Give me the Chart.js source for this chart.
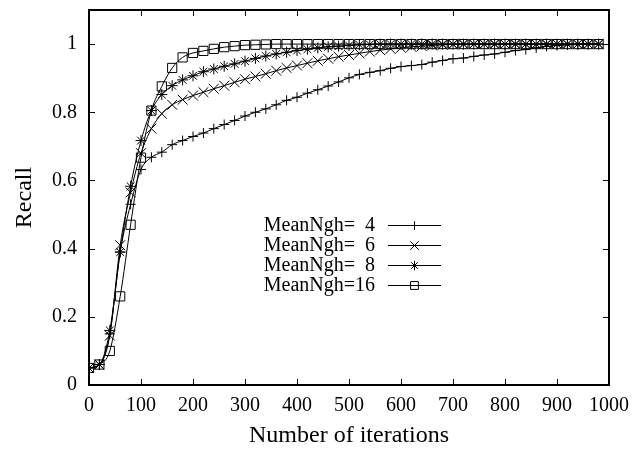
<!DOCTYPE html>
<html>
<head>
<meta charset="utf-8">
<script src="https://cdn.jsdelivr.net/npm/chart.js@4.4.0/dist/chart.umd.min.js"></script>
<style>
  body { margin: 0; background: #fff; }
  #wrap { width: 644px; height: 452px; }
</style>
</head>
<body>
<div id="wrap"><canvas id="recall" width="644" height="452"></canvas></div>
<script>
var iterations = [0, 20, 40, 60, 80, 100, 120, 140, 160, 180, 200, 220, 240, 260, 280, 300, 320, 340, 360, 380,
  400, 420, 440, 460, 480, 500, 520, 540, 560, 580, 600, 620, 640, 660, 680, 700, 720, 740, 760, 780,
  800, 820, 840, 860, 880, 900, 920, 940, 960, 980];

var ngh4 = [0.05, 0.06, 0.15, 0.39, 0.53, 0.632, 0.668, 0.683, 0.705, 0.717, 0.729, 0.739, 0.752, 0.764, 0.776, 0.789, 0.800, 0.810, 0.822, 0.835,
  0.844, 0.856, 0.866, 0.877, 0.889, 0.901, 0.911, 0.917, 0.922, 0.929, 0.934, 0.937, 0.940, 0.947, 0.952, 0.957, 0.959, 0.964, 0.968, 0.971,
  0.976, 0.981, 0.984, 0.989, 0.993, 0.996, 0.998, 0.999, 1.0, 1.0];
var ngh6 = [0.05, 0.06, 0.145, 0.41, 0.565, 0.68, 0.752, 0.796, 0.822, 0.837, 0.849, 0.859, 0.869, 0.878, 0.888, 0.897, 0.905, 0.913, 0.922, 0.93,
  0.937, 0.944, 0.951, 0.957, 0.963, 0.968, 0.973, 0.978, 0.982, 0.986, 0.989, 0.992, 0.994, 0.996, 0.998, 0.999, 1.0, 1.0, 1.0, 1.0,
  1.0, 1.0, 1.0, 1.0, 1.0, 1.0, 1.0, 1.0, 1.0, 1.0];
var ngh8 = [0.05, 0.06, 0.16, 0.39, 0.583, 0.717, 0.805, 0.852, 0.878, 0.895, 0.907, 0.919, 0.927, 0.935, 0.942, 0.95, 0.958, 0.965, 0.971, 0.976,
  0.981, 0.985, 0.989, 0.992, 0.994, 0.996, 0.998, 0.999, 1.0, 1.0, 1.0, 1.0, 1.0, 1.0, 1.0, 1.0, 1.0, 1.0, 1.0, 1.0,
  1.0, 1.0, 1.0, 1.0, 1.0, 1.0, 1.0, 1.0, 1.0, 1.0];
var ngh16 = [0.05, 0.06, 0.10, 0.26, 0.47, 0.667, 0.805, 0.876, 0.930, 0.961, 0.974, 0.98, 0.986, 0.991, 0.994, 0.997, 0.998, 0.999, 1.0, 1.0,
  1.0, 1.0, 1.0, 1.0, 1.0, 1.0, 1.0, 1.0, 1.0, 1.0, 1.0, 1.0, 1.0, 1.0, 1.0, 1.0, 1.0, 1.0, 1.0, 1.0,
  1.0, 1.0, 1.0, 1.0, 1.0, 1.0, 1.0, 1.0, 1.0, 1.0];

var seriesLabels = ['MeanNgh=  4', 'MeanNgh=  6', 'MeanNgh=  8', 'MeanNgh=16'];
var xTicks = [0, 100, 200, 300, 400, 500, 600, 700, 800, 900, 1000];
var yTicks = [0, 0.2, 0.4, 0.6, 0.8, 1];

var serif = "'Liberation Serif', 'DejaVu Serif', serif";

function points(vals) {
  return vals.map(function(v, i) { return {x: iterations[i], y: v}; });
}

function makeSet(label, vals, style, radius) {
  return {
    label: label,
    data: points(vals),
    borderColor: '#000',
    borderWidth: 1,
    backgroundColor: 'rgba(0,0,0,0)',
    pointStyle: style,
    pointRadius: radius,
    pointBorderColor: '#000',
    pointBorderWidth: 1,
    pointBackgroundColor: 'rgba(0,0,0,0)',
    cubicInterpolationMode: 'monotone',
    fill: false
  };
}

// gnuplot style frame: border, inward ticks on all four sides, key inside
var framePlugin = {
  id: 'frame',
  afterDraw: function(chart) {
    var ctx = chart.ctx;
    var a = chart.chartArea;
    var xs = chart.scales.x, ys = chart.scales.y;
    var tl = 6;
    ctx.save();
    ctx.strokeStyle = '#000';
    ctx.lineWidth = 1;
    ctx.beginPath();
    xTicks.forEach(function(t) {
      var px = Math.round(xs.getPixelForValue(t)) + 0.5;
      ctx.moveTo(px, a.bottom); ctx.lineTo(px, a.bottom - tl);
      ctx.moveTo(px, a.top); ctx.lineTo(px, a.top + tl);
    });
    yTicks.forEach(function(t) {
      var py = Math.round(ys.getPixelForValue(t)) + 0.5;
      ctx.moveTo(a.left, py); ctx.lineTo(a.left + tl, py);
      ctx.moveTo(a.right, py); ctx.lineTo(a.right - tl, py);
    });
    ctx.stroke();
    ctx.lineWidth = 2;
    ctx.strokeRect(a.left, a.top, a.right - a.left, a.bottom - a.top);

    // key
    ctx.font = '20px ' + serif;
    ctx.textAlign = 'right';
    ctx.textBaseline = 'middle';
    chart.data.datasets.forEach(function(ds, i) {
      var y = 225 + i * 20;
      ctx.fillStyle = '#000';
      ctx.fillText(ds.label, 375, y + 1);
      ctx.lineWidth = 1;
      ctx.beginPath();
      ctx.moveTo(388, y + 0.5); ctx.lineTo(441, y + 0.5);
      ctx.stroke();
      ctx.fillStyle = 'rgba(0,0,0,0)';
      Chart.helpers.drawPoint(ctx, {pointStyle: ds.pointStyle, radius: ds.pointRadius * 0.85, rotation: 0, borderWidth: 1}, 414.5, y + 0.5);
    });
    ctx.restore();
  }
};

var ctx1 = document.getElementById('recall').getContext('2d');
var chart = new Chart(ctx1, {
  type: 'line',
  data: {
    datasets: [
      makeSet(seriesLabels[0], ngh4, 'cross', 5),
      makeSet(seriesLabels[1], ngh6, 'crossRot', 7),
      makeSet(seriesLabels[2], ngh8, 'star', 5.5),
      makeSet(seriesLabels[3], ngh16, 'rect', 6.5)
    ]
  },
  options: {
    responsive: false,
    animation: false,
    devicePixelRatio: 1,
    layout: { padding: { top: 10, right: 35, left: 0, bottom: 0 } },
    plugins: {
      legend: { display: false },
      tooltip: { enabled: false }
    },
    scales: {
      x: {
        type: 'linear',
        min: 0,
        max: 1000,
        afterBuildTicks: function(s) { s.ticks = xTicks.map(function(v) { return {value: v}; }); },
        afterFit: function(s) { s.height = 67; s.paddingLeft = 0; s.paddingRight = 0; },
        grid: { display: false, drawTicks: false },
        border: { display: false },
        ticks: {
          padding: 9,
          color: '#000',
          font: { family: serif, size: 20 },
          maxRotation: 0,
          callback: function(v) { return String(v); }
        },
        title: {
          display: true,
          text: 'Number of iterations',
          color: '#000',
          font: { family: serif, size: 24 },
          padding: { top: 0, bottom: 2 }
        }
      },
      y: {
        type: 'linear',
        min: 0,
        max: 1.1,
        afterBuildTicks: function(s) { s.ticks = yTicks.map(function(v) { return {value: v}; }); },
        afterFit: function(s) { s.width = 89; s.paddingTop = 0; s.paddingBottom = 0; },
        grid: { display: false, drawTicks: false },
        border: { display: false },
        ticks: {
          padding: 12,
          color: '#000',
          font: { family: serif, size: 20 },
          callback: function(v) { return String(v); }
        },
        title: {
          display: true,
          text: 'Recall',
          color: '#000',
          font: { family: serif, size: 24 },
          padding: { top: 10, bottom: 0 }
        }
      }
    }
  },
  plugins: [framePlugin]
});
</script>
</body>
</html>
